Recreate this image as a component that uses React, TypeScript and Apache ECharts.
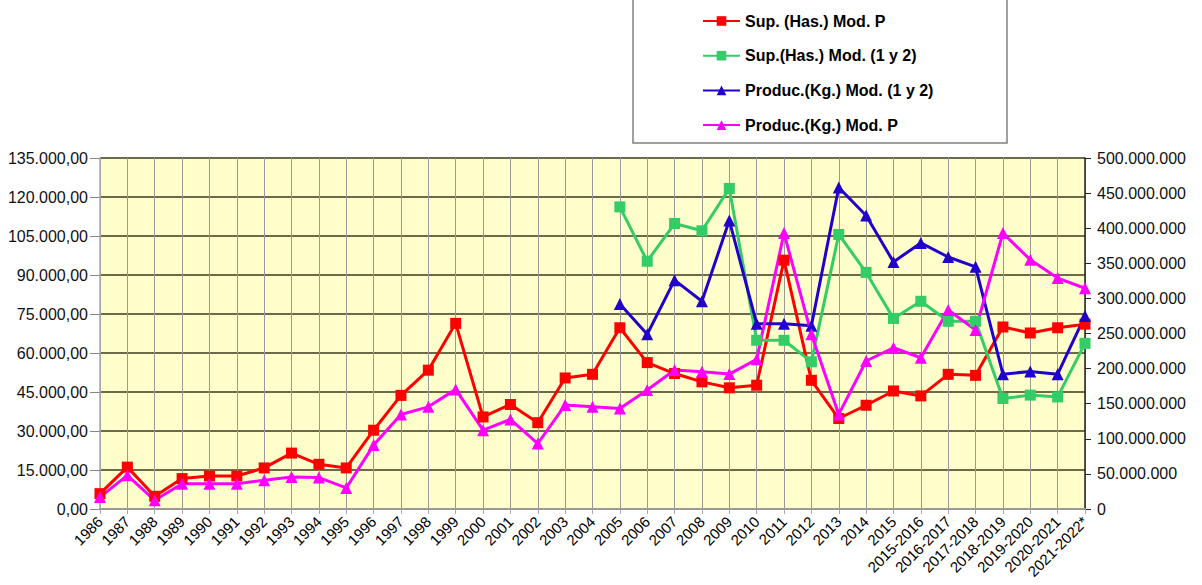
import React, { useEffect, useRef } from "react";
import * as echarts from "echarts";

const categories = [
  "1986", "1987", "1988", "1989", "1990", "1991", "1992", "1993", "1994", "1995",
  "1996", "1997", "1998", "1999", "2000", "2001", "2002", "2003", "2004", "2005",
  "2006", "2007", "2008", "2009", "2010", "2011", "2012", "2013", "2014", "2015",
  "2015-2016", "2016-2017", "2017-2018", "2018-2019", "2019-2020", "2020-2021", "2021-2022*",
];

const supModP = [
  5900, 16100, 4900, 11700, 12700, 12700, 15800, 21500, 17200, 15800,
  30300, 43700, 53400, 71400, 35400, 40200, 33200, 50400, 51800, 69700,
  56300, 52100, 48900, 46600, 47600, 95700, 49500, 34800, 39900, 45400,
  43500, 51800, 51400, 70000, 67700, 69700, 71100,
];

const supMod12 = [
  null, null, null, null, null, null, null, null, null, null,
  null, null, null, null, null, null, null, null, null, 116200,
  95300, 109800, 107000, 123300, 64900, 64900, 56600, 105600, 91000, 73300,
  79900, 72200, 72200, 42500, 43800, 43100, 63700,
];

const prodMod12 = [
  null, null, null, null, null, null, null, null, null, null,
  null, null, null, null, null, null, null, null, null, 292000000,
  249000000, 326000000, 296000000, 411000000, 264000000, 264000000, 261000000, 458000000, 418000000, 352000000,
  379000000, 359000000, 345000000, 192000000, 196000000, 192000000, 275000000,
];

const prodModP = [
  17000000, 48000000, 12400000, 36000000, 36000000, 36000000, 41000000, 45700000, 44800000, 30000000,
  91000000, 134700000, 145500000, 170400000, 112300000, 127600000, 93300000, 148000000, 145500000, 143300000,
  169400000, 197900000, 195500000, 192200000, 213200000, 393000000, 249000000, 134700000, 210800000, 229700000,
  215500000, 283500000, 255000000, 393000000, 355000000, 329000000, 314500000,
];

const seriesNames = [
  "Sup. (Has.) Mod. P",
  "Sup.(Has.) Mod. (1 y 2)",
  "Produc.(Kg.) Mod. (1 y 2)",
  "Produc.(Kg.) Mod. P",
];

const leftTicks = { min: 0, max: 135000, interval: 15000 };
const rightTicks = { min: 0, max: 500000000, interval: 50000000 };

function dots(n: number): string {
  const s = Math.round(n).toString();
  return s.replace(/\B(?=(\d{3})+(?!\d))/g, ".");
}

export default function App() {
  const ref = useRef<HTMLDivElement>(null);
  useEffect(() => {
    if (!ref.current) return;
    const chart = echarts.init(ref.current, undefined, { renderer: "svg" });
    const font = "Arial, 'Liberation Sans', sans-serif";
    chart.setOption({
      animation: false,
      backgroundColor: "#ffffff",
      textStyle: { fontFamily: font },
      graphic: [
        {
          type: "rect",
          z: 0,
          shape: { x: 633, y: -10, width: 374, height: 153 },
          style: { fill: "#ffffff", stroke: "#808080", lineWidth: 1.5 },
        },
      ],
      legend: {
        orient: "vertical",
        left: 702,
        top: 13,
        padding: 0,
        itemWidth: 37,
        itemHeight: 12,
        itemGap: 18.7,
        z: 10,
        textStyle: { fontSize: 16, fontWeight: "bold", color: "#000", fontFamily: font, lineHeight: 16 },
        data: seriesNames,
      },
      grid: {
        left: 100,
        right: 117,
        top: 158,
        bottom: 76,
        show: true,
        containLabel: false,
        outerBoundsMode: "none",
        backgroundColor: "#FFFFCC",
        borderWidth: 0,
      },
      xAxis: {
        type: "category",
        data: categories,
        boundaryGap: false,
        axisLine: { show: true, lineStyle: { color: "#999999", width: 2 } },
        axisTick: { show: true, alignWithLabel: true, length: 5, lineStyle: { color: "#aaaaaa" } },
        axisLabel: {
          rotate: 45,
          fontSize: 15,
          color: "#000",
          margin: 10,
          interval: 0,
          fontFamily: font,
        },
        splitLine: { show: true, interval: 0, lineStyle: { color: "#999999", width: 1 } },
      },
      yAxis: [
        {
          type: "value",
          position: "left",
          min: leftTicks.min,
          max: leftTicks.max,
          interval: leftTicks.interval,
          axisLine: { show: true, lineStyle: { color: "#aaaaaa", width: 1.5 } },
          axisTick: { show: true, length: 10, lineStyle: { color: "#888888" } },
          axisLabel: {
            fontSize: 16,
            color: "#111",
            margin: 12,
            fontFamily: font,
            formatter: (v: number) => dots(v) + ",00",
          },
          splitLine: { show: true, lineStyle: { color: "#3a3a1e", width: 1.5 } },
        },
        {
          type: "value",
          position: "right",
          min: rightTicks.min,
          max: rightTicks.max,
          interval: rightTicks.interval,
          axisLine: { show: true, lineStyle: { color: "#222222", width: 1.5 } },
          axisTick: { show: true, length: 6, lineStyle: { color: "#222222" } },
          axisLabel: {
            fontSize: 16,
            color: "#111",
            margin: 12,
            fontFamily: font,
            formatter: (v: number) => dots(v),
          },
          splitLine: { show: false },
        },
      ],
      series: [
        {
          name: seriesNames[0],
          type: "line",
          yAxisIndex: 0,
          data: supModP,
          symbol: "rect",
          symbolSize: 11,
          lineStyle: { color: "#FF0000", width: 3 },
          itemStyle: { color: "#FF0000" },
        },
        {
          name: seriesNames[1],
          type: "line",
          yAxisIndex: 0,
          data: supMod12,
          symbol: "rect",
          symbolSize: 11,
          lineStyle: { color: "#33CC66", width: 3 },
          itemStyle: { color: "#33CC66" },
        },
        {
          name: seriesNames[2],
          type: "line",
          yAxisIndex: 1,
          data: prodMod12,
          symbol: "triangle",
          symbolSize: 12,
          lineStyle: { color: "#2200CC", width: 3 },
          itemStyle: { color: "#2200CC" },
        },
        {
          name: seriesNames[3],
          type: "line",
          yAxisIndex: 1,
          data: prodModP,
          symbol: "triangle",
          symbolSize: 12,
          lineStyle: { color: "#FF00FF", width: 3 },
          itemStyle: { color: "#FF00FF" },
        },
      ],
    });
    return () => chart.dispose();
  }, []);
  return (
    <div
      ref={ref}
      style={{ position: "absolute", left: 0, top: 0, width: 1202, height: 585 }}
    />
  );
}
